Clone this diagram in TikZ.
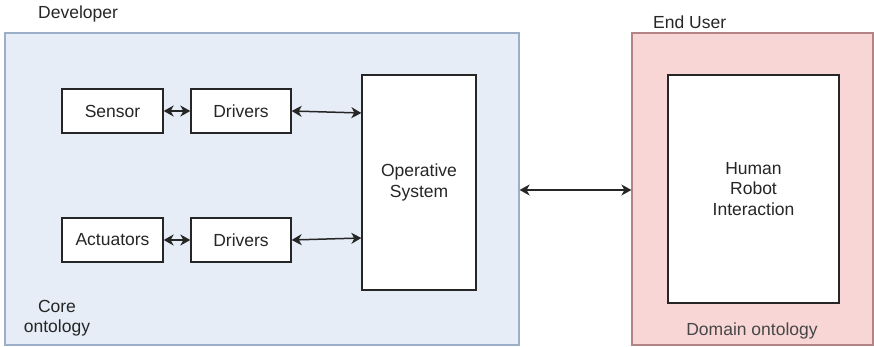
\documentclass[tikz,border=0pt]{standalone}
\usepackage{fontspec}
\setmainfont{Liberation Sans}
\usetikzlibrary{arrows.meta}
\definecolor{corefill}{HTML}{E6EDF7}
\definecolor{coreline}{HTML}{9DAFC8}
\definecolor{domfill}{HTML}{F9D6D6}
\definecolor{domline}{HTML}{B48484}
\definecolor{ink}{HTML}{262626}
\tikzset{
  base/.style={font=\fontsize{17.5}{20.5}\selectfont, text=ink},
  region/.style={draw, line width=1.2pt, inner sep=0pt},
  block/.style={base, draw=ink, fill=white, line width=1.3pt, inner sep=0pt, align=center},
  label/.style={base, inner sep=0pt, align=center},
  link/.style={draw=ink, line width=1.5pt, {Stealth[length=10pt,width=11pt,inset=3pt]}-{Stealth[length=10pt,width=11pt,inset=3pt]}},
}
\begin{document}
\begin{tikzpicture}[x=1pt,y=-1pt]
\useasboundingbox (0,0) rectangle (874,347);
% ontology regions
\node[region, draw=coreline, fill=corefill, minimum width=514pt, minimum height=312pt] (core) at (262,189) {};
\node[region, draw=domline, fill=domfill, minimum width=241pt, minimum height=312pt] (domain) at (752.5,189) {};
% region titles
\node[label, anchor=west] (dev) at (38,14) {Developer};
\node[label, anchor=west] (enduser) at (653,22) {End User};
\node[label] (coreont) at (57,318) {Core\\ontology};
\node[label, text=ink!85] (domont) at (752,331) {Domain ontology};
% core blocks
\node[block, minimum width=101pt, minimum height=44pt] (sensor) at (112.5,111) {Sensor};
\node[block, minimum width=100pt, minimum height=44pt] (drv1) at (241,111) {Drivers};
\node[block, minimum width=101pt, minimum height=44pt] (act) at (112.5,240) {Actuators};
\node[block, minimum width=100pt, minimum height=44pt] (drv2) at (241,240) {Drivers};
\node[block, minimum width=114pt, minimum height=215pt] (os) at (419,182.5) {Operative\\System};
% domain block
\node[block, minimum width=171pt, minimum height=228pt] (hri) at (753.5,189) {Human\\Robot\\Interaction};
% connectors
\draw[link] (sensor.east) -- (drv1.west);
\draw[link] (act.east) -- (drv2.west);
\draw[link] (drv1.east) -- (os.west |- 0,113);
\draw[link] (drv2.east) -- (os.west |- 0,238);
\draw[link] (core.east |- 0,190) -- (domain.west |- 0,190);
\end{tikzpicture}
\end{document}
